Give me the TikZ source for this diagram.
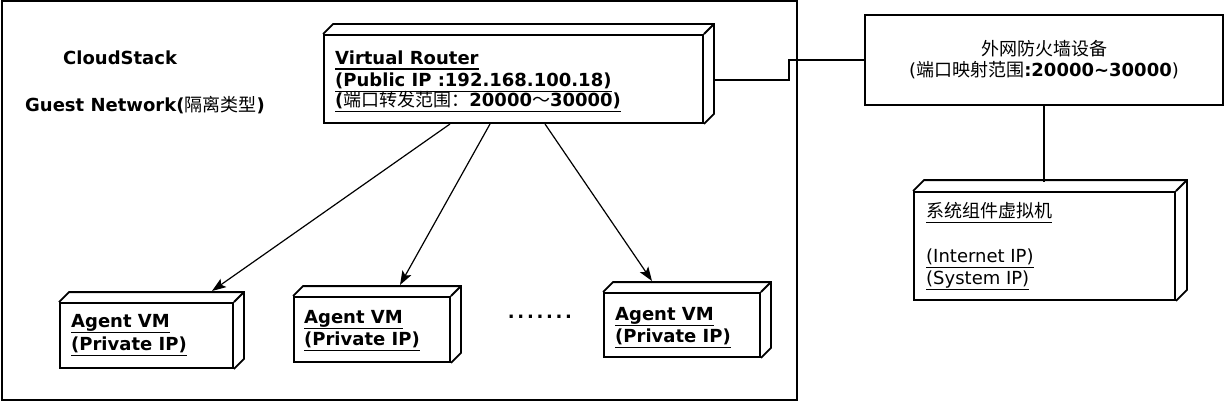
\documentclass[tikz,border=0pt]{standalone}
\usepackage{fontspec}
\setmainfont{DejaVu Sans}
\newfontfamily\cjk{Noto Sans CJK SC}
\usetikzlibrary{arrows.meta,calc}
\newcommand\cubeedges[2]{%
  \draw[boxline] (#1.north west) -- ++(#2,-#2) -- ($(#1.north east)+(#2,-#2)$) -- ($(#1.south east)+(#2,-#2)$) -- (#1.south east);
  \draw[boxline] (#1.north east) -- ++(#2,-#2);}
\newcommand\ultext[3]{%
  \node[txt,anchor=base west] (#1) at (#2) {#3};
  \draw[ulline] ([yshift=-5pt]#1.base west) -- ([yshift=-5pt]#1.base east);}
\begin{document}
\begin{tikzpicture}[x=1pt,y=-1pt,
  boxline/.style={line width=1.8pt,line join=miter},
  frontbox/.style={draw,boxline,inner sep=0pt,fill=white},
  txt/.style={inner sep=0pt,font=\fontsize{18}{21}\selectfont},
  ulline/.style={line width=1pt},
  conn/.style={line width=1.5pt},
  arr/.style={line width=1.2pt,-{Stealth[length=14pt,width=10pt,inset=3pt]}}]
\useasboundingbox (0,0) rectangle (1228,404);
% outer frame
\node[draw,line width=1.8pt,inner sep=0pt,minimum width=795pt,minimum height=399pt] (frame) at (399.5,200.5) {};
\node[txt,anchor=base west] (cs) at (63,64) {\bfseries CloudStack};
\node[txt,anchor=base west] (gn) at (25,111) {\bfseries Guest Network(\mdseries\cjk 隔离类型\bfseries\rmfamily)};
% router
\node[frontbox,minimum width=379pt,minimum height=88pt] (router) at (513.5,79) {};
\cubeedges{router}{10}
\ultext{r1}{335,64}{\bfseries Virtual Router}
\ultext{r2}{335,86}{\bfseries (Public IP :192.168.100.18)}
\ultext{r3}{335,106}{\bfseries (\mdseries\cjk 端口转发范围：\bfseries\rmfamily 20000{\mdseries\cjk ～}30000)}
% firewall
\node[frontbox,minimum width=358pt,minimum height=90pt] (fw) at (1044,60) {};
\node[txt,anchor=base] (fw1) at (1044,56) {\cjk 外网防火墙设备};
\node[txt,anchor=base] (fw2) at (1044,77) {(\cjk 端口映射范围\rmfamily\bfseries:20000\textasciitilde30000\mdseries)};
% system vm
\node[frontbox,minimum width=261pt,minimum height=108pt] (sys) at (1044.5,246) {};
\cubeedges{sys}{11}
\ultext{s1}{926,217}{\cjk 系统组件虚拟机}
\ultext{s2}{926,262}{(Internet IP)}
\ultext{s3}{926,284}{(System IP)}
% agent vms
\node[frontbox,minimum width=173pt,minimum height=65pt] (vm1) at (146.5,335.5) {};
\cubeedges{vm1}{10}
\ultext{v1a}{71,327}{\bfseries Agent VM}
\ultext{v1b}{71,350}{\bfseries (Private IP)}
\node[frontbox,minimum width=156pt,minimum height=65pt] (vm2) at (372,329.5) {};
\cubeedges{vm2}{10}
\ultext{v2a}{304,323}{\bfseries Agent VM}
\ultext{v2b}{304,345}{\bfseries (Private IP)}
\node[frontbox,minimum width=156pt,minimum height=64pt] (vm3) at (682,325) {};
\cubeedges{vm3}{10}
\ultext{v3a}{615,320}{\bfseries Agent VM}
\ultext{v3b}{615,342}{\bfseries (Private IP)}
\node[txt,anchor=base] (dots) at (540,318) {\bfseries\addfontfeature{LetterSpace=15}.......};
% connectors
\coordinate (ra) at (450,124);
\coordinate (rb) at (490,124);
\coordinate (rc) at (545,124);
\coordinate (t1) at (212,291);
\coordinate (t2) at (400,285);
\coordinate (t3) at (652,281);
\draw[arr] (ra) -- (t1);
\draw[arr] (rb) -- (t2);
\draw[arr] (rc) -- (t3);
\coordinate (rr) at (713,80);
\draw[conn] (rr) -- ++(76,0) |- (fw.west);
\draw[conn] (fw.south) -- ++(0,76);
\end{tikzpicture}
\end{document}
